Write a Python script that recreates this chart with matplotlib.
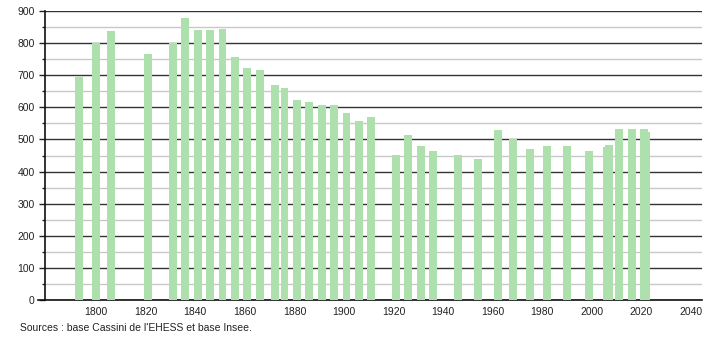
import matplotlib
matplotlib.use("Agg")
import matplotlib.pyplot as plt
from matplotlib.ticker import MultipleLocator, FixedLocator

years = [1793, 1800, 1806, 1821, 1831, 1836, 1841, 1846, 1851, 1856,
         1861, 1866, 1872, 1876, 1881, 1886, 1891, 1896, 1901, 1906,
         1911, 1921, 1926, 1931, 1936, 1946, 1954, 1962, 1968, 1975,
         1982, 1990, 1999, 2006, 2007, 2011, 2016, 2021, 2022]
population = [693, 799, 837, 766, 800, 878, 841, 841, 844, 757,
              721, 716, 670, 661, 623, 617, 607, 607, 582, 557,
              571, 451, 514, 480, 463, 451, 438, 529, 500, 470,
              480, 480, 464, 478, 483, 533, 533, 533, 523]
x_ticks = [1800, 1820, 1840, 1860, 1880, 1900, 1920, 1940, 1960, 1980, 2000, 2020, 2040]
source_text = "Sources : base Cassini de l'EHESS et base Insee."

plt.rcParams['font.family'] = ['Liberation Sans', 'DejaVu Sans']

fig = plt.figure(figsize=(7.1, 3.4), dpi=100)
ax = fig.add_axes([44.5/710, 40/340, (702-44.5)/710, (300-11)/340])

ax.bar(years, population, width=3.2, color='#aee0ae', zorder=3)

ax.set_xlim(1779.2, 2044.4)
ax.set_ylim(0, 900)
ax.xaxis.set_major_locator(FixedLocator(x_ticks))
ax.yaxis.set_major_locator(MultipleLocator(100))
ax.yaxis.set_minor_locator(MultipleLocator(50))

ax.grid(which='major', axis='y', color='#333333', linewidth=1.0, zorder=1)
ax.grid(which='minor', axis='y', color='#c8c8c8', linewidth=1.0, zorder=1)

for s in ['top', 'right']:
    ax.spines[s].set_visible(False)
ax.spines['left'].set_color('#111111')
ax.spines['bottom'].set_color('#111111')
ax.spines['left'].set_linewidth(1.2)
ax.spines['bottom'].set_linewidth(1.2)

ax.tick_params(axis='x', length=0, labelsize=7.5, pad=5, colors='#222222')
ax.tick_params(axis='y', which='major', length=4, width=1, labelsize=7.5, pad=3, colors='#222222')
ax.tick_params(axis='y', which='minor', length=2.5, width=1, colors='#222222')

# extend baseline slightly to the left of the y axis
ax.plot([-0.01, 0], [0, 0], transform=ax.transAxes, color='#111111',
        linewidth=1.2, clip_on=False)

fig.text(20/710, 1 - 328/340, source_text, fontsize=7.5, color='#222222',
         va='center', ha='left')

fig.savefig('out.png', dpi=100)
